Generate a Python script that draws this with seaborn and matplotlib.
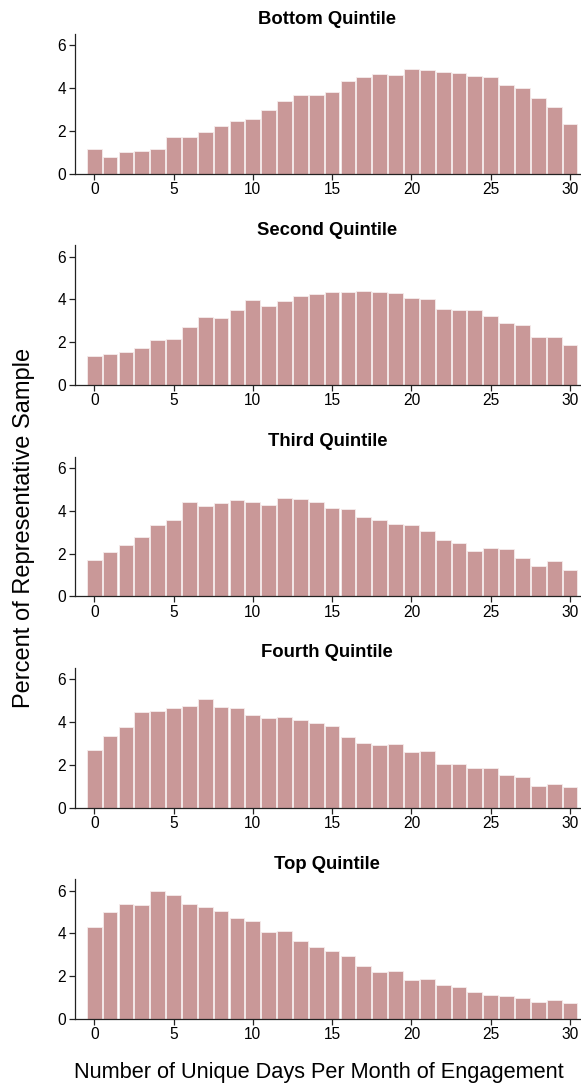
import numpy as np
import pandas as pd
import matplotlib
matplotlib.use("Agg")
import matplotlib.pyplot as plt
import seaborn as sns

days = list(range(31))
panel_titles = ["Bottom Quintile", "Second Quintile", "Third Quintile",
                "Fourth Quintile", "Top Quintile"]

bottom_q = [1.15, 0.78, 1.03, 1.06, 1.15, 1.70, 1.71, 1.95, 2.21, 2.48, 2.57,
            2.98, 3.41, 3.69, 3.66, 3.82, 4.35, 4.53, 4.67, 4.63, 4.88, 4.86,
            4.74, 4.70, 4.58, 4.50, 4.14, 4.02, 3.54, 3.12, 2.31]
second_q = [1.36, 1.45, 1.52, 1.75, 2.11, 2.17, 2.70, 3.17, 3.11, 3.52, 3.97,
            3.69, 3.94, 4.14, 4.27, 4.34, 4.36, 4.41, 4.33, 4.31, 4.08, 4.00,
            3.56, 3.50, 3.52, 3.23, 2.91, 2.80, 2.23, 2.23, 1.86]
third_q = [1.70, 2.05, 2.38, 2.75, 3.31, 3.55, 4.42, 4.23, 4.34, 4.48, 4.39,
           4.25, 4.61, 4.53, 4.39, 4.14, 4.06, 3.73, 3.55, 3.38, 3.33, 3.06,
           2.61, 2.50, 2.14, 2.28, 2.22, 1.80, 1.41, 1.66, 1.25]
fourth_q = [2.69, 3.36, 3.77, 4.47, 4.52, 4.66, 4.75, 5.06, 4.70, 4.66, 4.33,
            4.19, 4.23, 4.09, 3.94, 3.80, 3.28, 3.03, 2.94, 2.95, 2.58, 2.63,
            2.05, 2.03, 1.84, 1.83, 1.53, 1.41, 1.03, 1.08, 0.95]
top_q = [4.30, 5.02, 5.36, 5.31, 5.98, 5.81, 5.36, 5.25, 5.05, 4.70, 4.58,
         4.08, 4.10, 3.63, 3.36, 3.18, 2.93, 2.48, 2.17, 2.26, 1.82, 1.87,
         1.60, 1.50, 1.28, 1.14, 1.07, 1.00, 0.78, 0.90, 0.72]
series = [bottom_q, second_q, third_q, fourth_q, top_q]

x_ticks = [0, 5, 10, 15, 20, 25, 30]
y_ticks = [0, 2, 4, 6]

sns.set_style("ticks")
plt.rcParams['font.family'] = ['Liberation Sans', 'DejaVu Sans']
plt.rcParams['text.color'] = 'black'
plt.rcParams['xtick.color'] = '#222222'
plt.rcParams['ytick.color'] = '#222222'
plt.rcParams['xtick.labelcolor'] = 'black'
plt.rcParams['ytick.labelcolor'] = 'black'

W, H = 581, 1090
fig = plt.figure(figsize=(W / 100, H / 100), dpi=100)

bar_color = "#c99898"
left_px, right_px = 74.7, 580
for i, (title, vals) in enumerate(zip(panel_titles, series)):
    bottom_px = 173.7 + 211.3 * i
    top_px = bottom_px - 139.7
    ax = fig.add_axes([left_px / W, 1 - bottom_px / H,
                       (right_px - left_px) / W, (bottom_px - top_px) / H])
    df = pd.DataFrame({"day": days, "pct": vals})
    sns.barplot(data=df, x="day", y="pct", native_scale=True, color=bar_color,
                saturation=1, width=0.93, edgecolor="#f6ecec", linewidth=0.6,
                ax=ax)
    ax.set_xlim(-1.23, 30.63)
    ax.set_ylim(0, 6.53)
    ax.set_xticks(x_ticks)
    ax.set_yticks(y_ticks)
    ax.set_xlabel("")
    ax.set_ylabel("")
    ax.set_title(title, fontsize=13.3, fontweight="bold", pad=7.5, color="black")
    ax.tick_params(axis="both", labelsize=11.2, length=4, width=0.9, pad=2)
    for s in ["left", "bottom"]:
        ax.spines[s].set_linewidth(0.9)
        ax.spines[s].set_color("#222222")
    sns.despine(ax=ax)

fig.text(0.041, 0.516, "Percent of Representative Sample", rotation=90,
         ha="center", va="center", fontsize=17)
fig.text(0.549, 0.0165, "Number of Unique Days Per Month of Engagement",
         ha="center", va="center", fontsize=15.7)

fig.savefig("out.png", dpi=100)
